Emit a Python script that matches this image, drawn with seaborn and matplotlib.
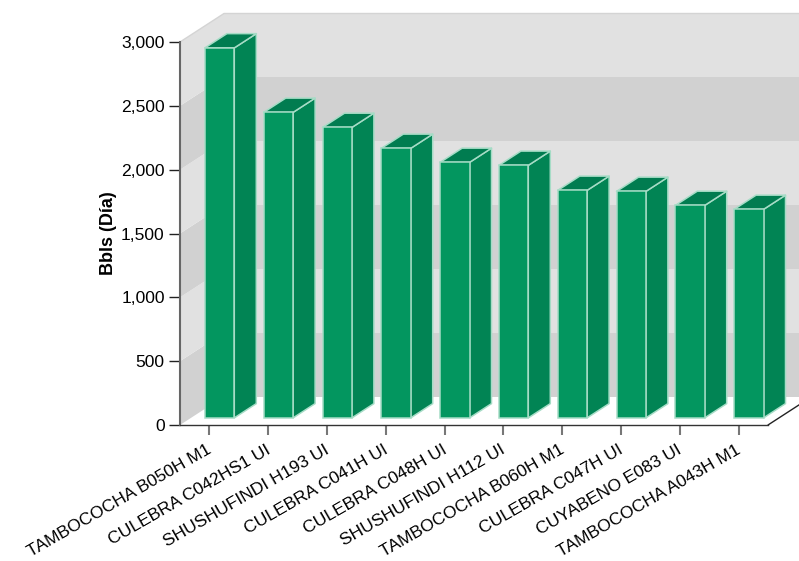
import matplotlib
matplotlib.use("Agg")
import matplotlib.pyplot as plt
import seaborn as sns
from matplotlib.patches import Polygon
from matplotlib.transforms import Affine2D, IdentityTransform

wells = ["TAMBOCOCHA B050H M1", "CULEBRA C042HS1 UI", "SHUSHUFINDI H193 UI",
         "CULEBRA C041H UI", "CULEBRA C048H UI", "SHUSHUFINDI H112 UI",
         "TAMBOCOCHA B060H M1", "CULEBRA C047H UI", "CUYABENO E083 UI",
         "TAMBOCOCHA A043H M1"]
bbls = [2898, 2393, 2275, 2111, 2001, 1978, 1782, 1774, 1664, 1633]
y_ticks = [0, 500, 1000, 1500, 2000, 2500, 3000]

sns.set_style("white")
plt.rcParams["font.family"] = ["Liberation Sans", "DejaVu Sans"]

fig = plt.figure(figsize=(7.99, 5.61), dpi=100)
ax = fig.add_axes([180 / 799, (561 - 425) / 561, 588 / 799, 383 / 561])
ax.patch.set_alpha(0)

sns.barplot(x=wells, y=bbls, color="#03965f", saturation=1, width=0.5, ax=ax, zorder=4)
ax.set_xlim(-0.5, 9.5)
ax.set_ylim(0, 3000)

# depth of the fake 3d box, in pixels
depth_x, depth_y = 44, 28.5
identity = IdentityTransform()


def face(points, color, edge="none", zorder=1, lw=0):
    ax.add_patch(Polygon(points, closed=True, facecolor=color, edgecolor=edge, lw=lw,
                         transform=identity, clip_on=False, zorder=zorder, joinstyle="round"))


# walls, striped per tick band
x0 = ax.transData.transform((-0.5, 0))[0]
for i in range(len(y_ticks) - 1):
    low = ax.transData.transform((-0.5, y_ticks[i]))[1]
    high = ax.transData.transform((-0.5, y_ticks[i + 1]))[1]
    color = "#d1d1d1" if i % 2 == 0 else "#e1e1e1"
    face([(x0, low), (x0 + depth_x, low + depth_y), (x0 + depth_x, high + depth_y), (x0, high)],
         color, zorder=0.5)
    face([(x0 + depth_x, low + depth_y), (810, low + depth_y), (810, high + depth_y),
          (x0 + depth_x, high + depth_y)], color, zorder=0.5)

# top rim of the wall and floor edge
top = ax.transData.transform((-0.5, 3000))[1]
ax.plot([x0, x0 + depth_x, 810], [top, top + depth_y, top + depth_y], color="#d4d4d4", lw=1,
        transform=identity, clip_on=False, zorder=0.6)
x1, y1 = ax.transData.transform((9.5, 0))
ax.plot([x1, x1 + depth_x], [y1, y1 + depth_y], color="#222222", lw=1,
        transform=identity, clip_on=False, zorder=2)

# bars sit a quarter of the way into the box, sides take half the depth
shift_x, shift_y = depth_x / 4 - 0.8, depth_y / 4
side_x, side_y = depth_x / 2, depth_y / 2
edge = "#a6dcc6"
for bar in ax.patches:
    if not hasattr(bar, "get_width"):
        continue
    left = bar.get_x()
    right = left + bar.get_width()
    lx, by = ax.transData.transform((left, 0))
    rx, ty = ax.transData.transform((right, bar.get_height()))
    lx, rx = lx + shift_x, rx + shift_x
    by, ty = by + shift_y, ty + shift_y
    face([(rx, by), (rx + side_x, by + side_y), (rx + side_x, ty + side_y), (rx, ty)],
         "#018454", edge, zorder=4, lw=1.1)
    face([(lx, ty), (rx, ty), (rx + side_x, ty + side_y), (lx + side_x, ty + side_y)],
         "#017c50", edge, zorder=4, lw=1.1)
    bar.set_transform(ax.transData + Affine2D().translate(shift_x, shift_y))
    bar.set_edgecolor(edge)
    bar.set_linewidth(1.1)
    bar.set_clip_on(False)
    bar.set_zorder(5)

ax.set_yticks(y_ticks)
ax.set_yticklabels([f"{v:,}" for v in y_ticks], fontsize=12.6, color="#000000")
ax.set_xticks(range(len(wells)))
ax.set_xticklabels(wells, rotation=30, ha="right", rotation_mode="anchor", fontsize=12.6, color="#000000")
ax.tick_params(axis="y", length=8, width=1, color="#222222", left=True, pad=3)
ax.tick_params(axis="x", length=7, width=1.5, color="#777777", bottom=True, pad=4)
ax.set_ylabel("Bbls (Día)", fontsize=13, fontweight="bold", labelpad=0, color="#000000")
ax.yaxis.set_label_coords(-0.107, 0.5)

# rotated labels end a little left of their tick
for label in ax.get_xticklabels():
    label.set_transform(label.get_transform() + Affine2D().translate(-3, -2))

sns.despine(ax=ax)
ax.spines["left"].set_color("#666666")
ax.spines["left"].set_linewidth(1.5)
ax.spines["bottom"].set_color("#333333")
ax.spines["bottom"].set_linewidth(1)
for spine in ax.spines.values():
    spine.set_zorder(3)

fig.savefig("out.png", dpi=100)
